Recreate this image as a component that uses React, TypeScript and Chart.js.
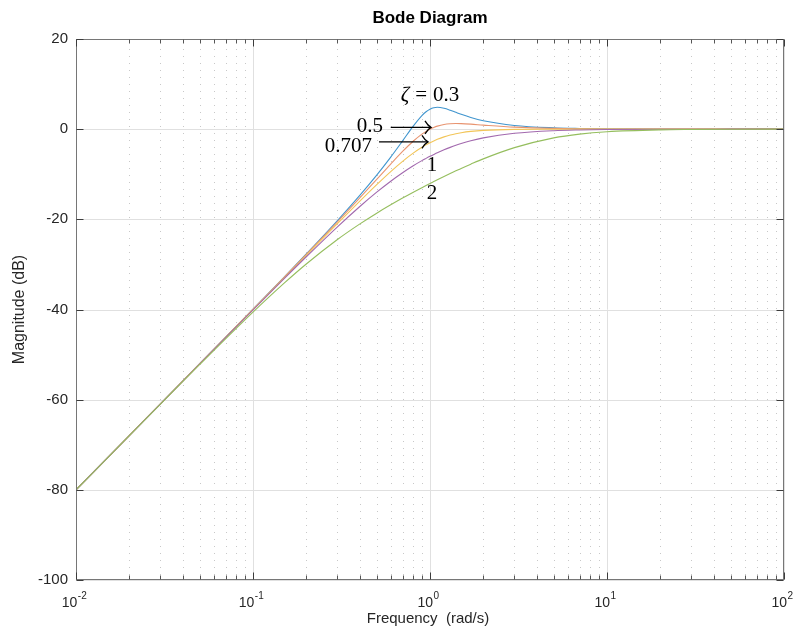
import { useEffect, useRef } from "react";
import { Chart, registerables } from "chart.js";

Chart.register(...registerables);

// ---- data ----
const frequencies = [0.01, 0.02, 0.03, 0.05, 0.1, 0.15, 0.2, 0.3, 0.4, 0.5, 0.6, 0.7, 0.8, 0.9, 0.95, 1, 1.05, 1.1, 1.2, 1.3, 1.4, 1.5, 1.7, 2, 3, 5, 7, 10, 20, 30, 50, 100];
const zeta03 = [-80.0, -67.96, -60.92, -52.02, -39.93, -32.8, -27.67, -20.26, -14.74, -10.19, -6.19, -2.6, 0.56, 3.01, 3.87, 4.44, 4.75, 4.85, 4.64, 4.21, 3.73, 3.29, 2.58, 1.85, 0.81, 0.29, 0.15, 0.07, 0.02, 0.01, 0.0, 0.0];
const zeta05 = [-80.0, -67.96, -60.92, -52.03, -39.96, -32.86, -27.79, -20.55, -15.29, -11.14, -7.74, -4.95, -2.74, -1.1, -0.49, 0.0, 0.38, 0.67, 1.04, 1.2, 1.25, 1.23, 1.11, 0.9, 0.45, 0.17, 0.09, 0.04, 0.01, 0.0, 0.0, 0.0];
const zeta0707 = [-80.0, -67.96, -60.92, -52.04, -40.0, -32.96, -27.97, -20.95, -16.03, -12.3, -9.4, -7.13, -5.37, -4.02, -3.48, -3.01, -2.61, -2.26, -1.71, -1.3, -1.0, -0.78, -0.49, -0.26, -0.05, -0.01, 0.0, 0.0, 0.0, 0.0, 0.0, 0.0];
const zeta1 = [-80.0, -67.96, -60.93, -52.06, -40.09, -33.15, -28.3, -21.66, -17.21, -13.98, -11.54, -9.66, -8.17, -6.98, -6.48, -6.02, -5.61, -5.23, -4.58, -4.04, -3.58, -3.19, -2.58, -1.94, -0.92, -0.34, -0.18, -0.09, -0.02, -0.01, 0.0, 0.0];
const zeta2 = [-80.01, -67.98, -60.97, -52.19, -40.57, -34.15, -29.9, -24.47, -21.06, -18.63, -16.78, -15.28, -14.03, -12.97, -12.49, -12.04, -11.62, -11.22, -10.49, -9.84, -9.25, -8.7, -7.76, -6.59, -4.1, -1.93, -1.09, -0.57, -0.15, -0.07, -0.02, 0.0];

const dampingLabels = ["0.3", "0.5", "0.707", "1", "2"];
const seriesValues = [zeta03, zeta05, zeta0707, zeta1, zeta2];
const seriesColors = ["#4095CE", "#E89470", "#F2C558", "#A269AE", "#95BE5E"];

const yTickValues = [20, 0, -20, -40, -60, -80, -100];
const xTickExponents = [-2, -1, 0, 1, 2];
const minorMultipliers = [2, 3, 4, 5, 6, 7, 8, 9];

const chartTitle = "Bode Diagram";
const xAxisTitle = "Frequency  (rad/s)";
const yAxisTitle = "Magnitude (dB)";

// annotation labels (anchored in data coordinates: frequency, dB at text baseline)
const textLabels = [
  { text: "0.5", x: 0.542, y: -0.62, align: "right" },
  { text: "0.707", x: 0.471, y: -5.06, align: "right" },
  { text: "1", x: 1.025, y: -9.2, align: "center" },
  { text: "2", x: 1.025, y: -15.4, align: "center" },
];
const zetaLabel = { symbol: "ζ", eq: "=", value: "0.3", x: 1.0, y: 6.26 };
const arrows = [
  { x0: 0.6, x1: 1.013, y: 0.38 },
  { x0: 0.515, x1: 0.974, y: -2.82 },
];

const SANS = '"Liberation Sans", Arial, Helvetica, sans-serif';
const SERIF = '"Liberation Serif", "Times New Roman", serif';
const AXIS_COLOR = "#262626";

const crisp = (v: number) => Math.round(v) + 0.5;

const matlabPlugin = {
  id: "matlabAxes",
  beforeDatasetsDraw(chart: any) {
    const { ctx, chartArea: a, scales } = chart;
    const xs = scales.x;
    const ys = scales.y;
    ctx.save();
    ctx.lineWidth = 1;
    // minor dotted vertical grid
    ctx.strokeStyle = "#c8c8c8";
    ctx.setLineDash([1, 6]);
    for (let i = 0; i < xTickExponents.length - 1; i++) {
      for (const m of minorMultipliers) {
        const px = crisp(xs.getPixelForValue(m * Math.pow(10, xTickExponents[i])));
        ctx.beginPath();
        ctx.moveTo(px, a.top + 3);
        ctx.lineTo(px, a.bottom);
        ctx.stroke();
      }
    }
    ctx.setLineDash([]);
    ctx.strokeStyle = "#e0e0e0";
    for (const e of xTickExponents) {
      const px = crisp(xs.getPixelForValue(Math.pow(10, e)));
      ctx.beginPath();
      ctx.moveTo(px, a.top);
      ctx.lineTo(px, a.bottom);
      ctx.stroke();
    }
    for (const v of yTickValues) {
      const py = crisp(ys.getPixelForValue(v));
      ctx.beginPath();
      ctx.moveTo(a.left, py);
      ctx.lineTo(a.right, py);
      ctx.stroke();
    }
    ctx.restore();
  },
  afterDatasetsDraw(chart: any) {
    const { ctx, chartArea: a, scales } = chart;
    const xs = scales.x;
    const ys = scales.y;
    const L = crisp(a.left);
    const R = crisp(a.right - 1);
    const T = crisp(a.top);
    const B = crisp(a.bottom - 1);
    ctx.save();
    ctx.lineWidth = 1;
    ctx.strokeStyle = "#767676";
    ctx.strokeRect(L, T, R - L, B - T);
    ctx.strokeStyle = "#3c3c3c";
    const line = (x0: number, y0: number, x1: number, y1: number) => {
      ctx.beginPath();
      ctx.moveTo(x0, y0);
      ctx.lineTo(x1, y1);
      ctx.stroke();
    };
    // y ticks
    for (const v of yTickValues) {
      const py = crisp(ys.getPixelForValue(v));
      line(L, py, L + 7, py);
      line(R, py, R - 7, py);
    }
    // x ticks
    for (const e of xTickExponents) {
      const px = crisp(xs.getPixelForValue(Math.pow(10, e)));
      line(px, B, px, B - 7);
      line(px, T, px, T + 7);
    }
    ctx.strokeStyle = "#555";
    for (let i = 0; i < xTickExponents.length - 1; i++) {
      for (const m of minorMultipliers) {
        const px = crisp(xs.getPixelForValue(m * Math.pow(10, xTickExponents[i])));
        line(px, B, px, B - 4);
        line(px, T, px, T + 4);
      }
    }
    ctx.restore();
  },
  afterDraw(chart: any) {
    const { ctx, chartArea: a, scales } = chart;
    const xs = scales.x;
    const ys = scales.y;
    const cx = (a.left + a.right) / 2;
    ctx.save();
    ctx.fillStyle = AXIS_COLOR;
    // y tick labels
    ctx.font = `15px ${SANS}`;
    ctx.textAlign = "right";
    ctx.textBaseline = "middle";
    for (const v of yTickValues) {
      ctx.fillText(String(v), a.left - 8, ys.getPixelForValue(v));
    }
    // x tick labels 10^e
    ctx.textAlign = "left";
    ctx.textBaseline = "alphabetic";
    for (const e of xTickExponents) {
      const px = xs.getPixelForValue(Math.pow(10, e));
      ctx.font = `14px ${SANS}`;
      const wBase = ctx.measureText("10").width;
      ctx.font = `10px ${SANS}`;
      const expText = String(e);
      const wExp = ctx.measureText(expText).width;
      const start = px - 2 - (wBase + wExp) / 2;
      ctx.font = `14px ${SANS}`;
      ctx.fillText("10", start, a.bottom + 27);
      ctx.font = `10px ${SANS}`;
      ctx.fillText(expText, start + wBase + 0.5, a.bottom + 18.5);
    }
    // axis titles
    ctx.textAlign = "center";
    ctx.font = `15px ${SANS}`;
    ctx.fillText(xAxisTitle, cx - 2, a.bottom + 43);
    ctx.save();
    ctx.translate(24, (a.top + a.bottom) / 2);
    ctx.rotate(-Math.PI / 2);
    ctx.font = `16px ${SANS}`;
    ctx.fillText(yAxisTitle, 0, 0);
    ctx.restore();
    // title
    ctx.font = `bold 17px ${SANS}`;
    ctx.fillStyle = "#000";
    ctx.fillText(chartTitle, cx, 22.5);

    // annotations
    ctx.fillStyle = "#000";
    ctx.font = `21px ${SERIF}`;
    for (const t of textLabels) {
      ctx.textAlign = t.align as CanvasTextAlign;
      ctx.fillText(t.text, xs.getPixelForValue(t.x), ys.getPixelForValue(t.y));
    }
    // zeta label with math spacing
    ctx.textAlign = "left";
    const gap = 6;
    ctx.font = `italic 21px ${SERIF}`;
    const wz = ctx.measureText(zetaLabel.symbol).width;
    ctx.font = `21px ${SERIF}`;
    const we = ctx.measureText(zetaLabel.eq).width;
    const wv = ctx.measureText(zetaLabel.value).width;
    const total = wz + gap + we + gap + wv;
    const zx = xs.getPixelForValue(zetaLabel.x) - total / 2;
    const zy = ys.getPixelForValue(zetaLabel.y);
    ctx.font = `italic 21px ${SERIF}`;
    ctx.fillText(zetaLabel.symbol, zx, zy);
    ctx.font = `21px ${SERIF}`;
    ctx.fillText(zetaLabel.eq, zx + wz + gap, zy);
    ctx.fillText(zetaLabel.value, zx + wz + gap + we + gap, zy);
    // arrows
    ctx.strokeStyle = "#000";
    ctx.lineWidth = 1.3;
    for (const ar of arrows) {
      const x0 = xs.getPixelForValue(ar.x0);
      const x1 = xs.getPixelForValue(ar.x1);
      const y = ys.getPixelForValue(ar.y);
      ctx.beginPath();
      ctx.moveTo(x0, y);
      ctx.lineTo(x1, y);
      ctx.stroke();
      ctx.beginPath();
      ctx.moveTo(x1 - 6, y - 6.5);
      ctx.quadraticCurveTo(x1 - 3, y - 1.5, x1, y);
      ctx.quadraticCurveTo(x1 - 3, y + 1.5, x1 - 6, y + 6.5);
      ctx.stroke();
    }
    ctx.restore();
  },
};

export default function App() {
  const canvasRef = useRef<HTMLCanvasElement>(null);

  useEffect(() => {
    const canvas = canvasRef.current;
    if (!canvas) return;
    const datasets = seriesValues.map((vals, i) => ({
      label: "ζ = " + dampingLabels[i],
      data: frequencies.map((f, j) => ({ x: f, y: vals[j] })),
      borderColor: seriesColors[i],
      backgroundColor: seriesColors[i],
      borderWidth: 1.1,
      pointRadius: 0,
      fill: false,
      cubicInterpolationMode: "monotone" as const,
      order: seriesValues.length - i,
    }));
    const chart = new Chart(canvas, {
      type: "line",
      data: { datasets },
      options: {
        responsive: false,
        animation: false,
        devicePixelRatio: 1,
        layout: { padding: { top: 39, right: 16, left: 0, bottom: 0 } },
        plugins: {
          legend: { display: false },
          tooltip: { enabled: false },
          title: { display: false },
        },
        scales: {
          x: {
            type: "logarithmic",
            min: 0.01,
            max: 100,
            grid: { display: false },
            border: { display: false },
            ticks: { display: false },
            afterFit: (s: any) => {
              s.height = 56;
            },
          },
          y: {
            type: "linear",
            min: -100,
            max: 20,
            grid: { display: false },
            border: { display: false },
            ticks: { display: false },
            afterFit: (s: any) => {
              s.width = 76;
            },
          },
        },
      },
      plugins: [matlabPlugin],
    });
    return () => chart.destroy();
  }, []);

  return (
    <div style={{ position: "fixed", left: 0, top: 0, width: 800, height: 636, background: "#fff" }}>
      <canvas ref={canvasRef} width={800} height={636} style={{ display: "block", width: 800, height: 636 }} />
    </div>
  );
}
